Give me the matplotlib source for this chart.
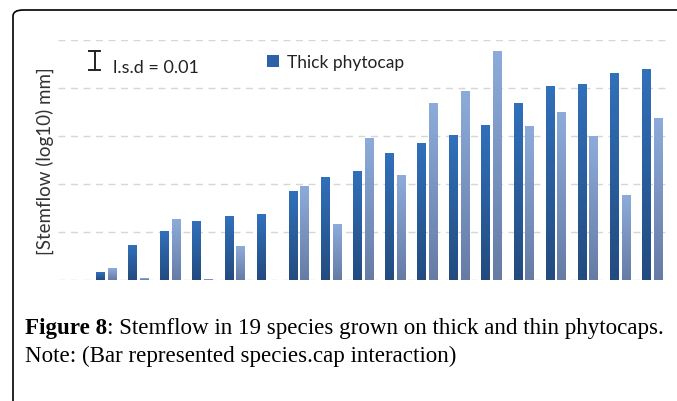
import numpy as np
import matplotlib.pyplot as plt
from matplotlib.patches import FancyBboxPatch, Patch
from matplotlib.colors import LinearSegmentedColormap

#%% data (in gridline units, no tick labels shown)
species = np.arange(1, 20)
thick = [0.0, 0.15, 0.72, 1.01, 1.21, 1.33, 1.37, 1.85, 2.13, 2.27,
         2.64, 2.85, 3.02, 3.21, 3.68, 4.03, 4.08, 4.30, 4.38]
thin = [0.0, 0.24, 0.04, 1.26, 0.01, 0.69, 0.0, 1.94, 1.15, 2.94,
        2.17, 3.67, 3.93, 4.76, 3.19, 3.49, 3.00, 1.76, 3.37]
legend_label = 'Thick phytocap'
lsd_label = 'l.s.d = 0.01'
ylabel = '[Stemflow (log10) mm]'
cap_bold = 'Figure 8'
cap_line1 = ': Stemflow in 19 species grown on thick and thin phytocaps.'
cap_line2 = 'Note: (Bar represented species.cap interaction)'

W, H = 677, 402
fig = plt.figure(figsize=(W/100, H/100), dpi=100)

# rounded frame, runs off the right and bottom edges
frame = FancyBboxPatch((13/W, -30/H), 720/W, (H-11+30)/H,
                       boxstyle='round,pad=0,rounding_size=0.015',
                       transform=fig.transFigure, fill=False,
                       edgecolor='black', linewidth=1.2)
fig.add_artist(frame)

ax = fig.add_axes([58/W, (H-281)/H, 610/W, 240/H])
x = np.arange(len(species))
bw = 0.26
off = 0.182

thick_cm = LinearSegmentedColormap.from_list('thk', ['#234b80', '#3170ba'])
thin_cm = LinearSegmentedColormap.from_list('thn', ['#667ca6', '#8dabda'])
grad = np.linspace(0, 1, 64).reshape(-1, 1)

def grad_bars(xs, vals, cmap):
    bars = ax.bar(xs, vals, bw, color='none', edgecolor='none', zorder=3)
    for b in bars:
        h = b.get_height()
        if h <= 0:
            continue
        x0 = b.get_x()
        ax.imshow(grad, cmap=cmap, origin='lower', aspect='auto',
                  extent=[x0, x0 + b.get_width(), 0, h], zorder=3,
                  interpolation='bilinear')
    return bars

grad_bars(x - off, thick, thick_cm)
grad_bars(x + off, thin, thin_cm)

ax.set_xlim(-0.5, len(species) - 0.5)
ax.set_ylim(0, 5)
ax.set_yticks(np.arange(0, 6))
ax.grid(axis='y', color='#d6d6d6', linestyle=(0, (5, 4)), linewidth=1.0, zorder=0)
ax.tick_params(left=False, bottom=False, labelleft=False, labelbottom=False)
for s in ax.spines.values():
    s.set_visible(False)

fig.text(45/W, 1 - 161/H, ylabel, rotation=90, ha='center', va='center',
         family='Lato', fontsize=13.5, color='#333333')

# l.s.d marker
xi = 94.5
for (xa, ya, xb, yb) in [(xi, 52, xi, 71), (xi-5.5, 52, xi+5.5, 52), (xi-5.5, 71, xi+5.5, 71)]:
    fig.add_artist(plt.Line2D([xa/W, xb/W], [1-ya/H, 1-yb/H], color='#222222',
                              linewidth=1.4, transform=fig.transFigure))
fig.text(113/W, 1 - 68/H, lsd_label, ha='left', va='center', family='Lato',
         fontsize=13, color='#222222')

leg = fig.legend(handles=[Patch(facecolor='#2d62a8', edgecolor='none')],
                 labels=[legend_label], loc='center left',
                 bbox_to_anchor=(267/W, 1 - 63/H), frameon=False,
                 handlelength=0.7, handleheight=0.7, handletextpad=0.45,
                 borderpad=0, borderaxespad=0,
                 prop={'family': 'Lato', 'size': 12.5})
for t in leg.get_texts():
    t.set_color('#222222')

# caption
tb = fig.text(25/W, 1 - 329/H, cap_bold, ha='left', va='center',
              family='Liberation Serif', fontsize=16.6, fontweight='bold')
fig.canvas.draw()
bb = tb.get_window_extent()
fig.text(bb.x1/W, 1 - 329/H, cap_line1, ha='left', va='center',
         family='Liberation Serif', fontsize=16.6)
fig.text(25/W, 1 - 356/H, cap_line2, ha='left', va='center',
         family='Liberation Serif', fontsize=16.6)

fig.savefig('out.png', dpi=100)
